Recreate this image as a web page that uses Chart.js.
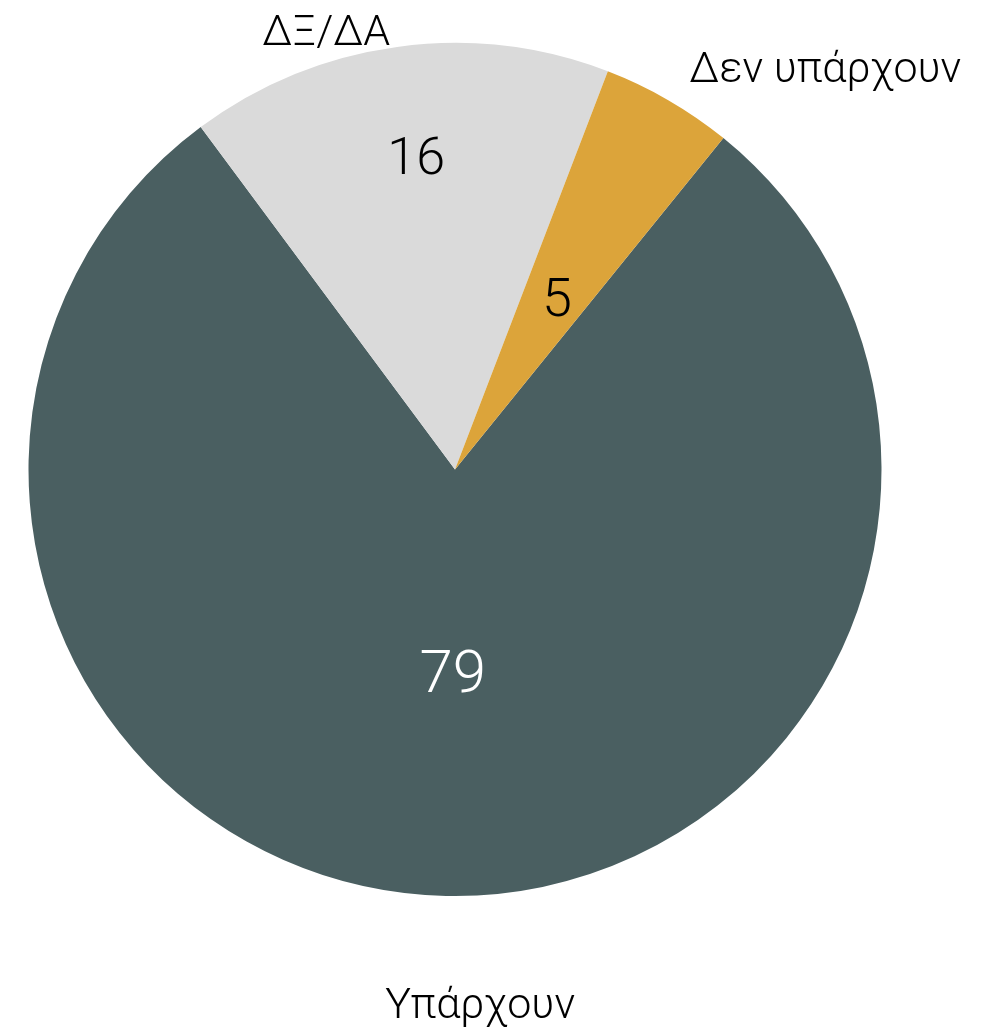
<!DOCTYPE html>
<html lang="el">
<head>
<meta charset="utf-8">
<title>Υπάρχουν / ΔΞ/ΔΑ / Δεν υπάρχουν</title>
<script src="https://cdn.jsdelivr.net/npm/chart.js@4.4.1/dist/chart.umd.min.js"></script>
<style>
    html, body { margin: 0; padding: 0; background: #ffffff; }
    .chart-box { width: 999px; height: 1029px; position: relative; }
</style>
</head>
<body>
<div class="chart-box">
    <canvas id="answers-pie-chart"></canvas>
</div>
<script>
const categories = ['Υπάρχουν', 'ΔΞ/ΔΑ', 'Δεν υπάρχουν'];
const answerValues = [79, 16, 5];
const sliceColors = ['#4a5f61', '#dadada', '#dca43a'];

// where each text goes, relative to the pie centre, in units of the radius
const valueSpots = [[-0.005, 0.522, 60, '#ffffff'], [-0.091, -0.693, 52, '#000000'], [0.239, -0.36, 54, '#000000']];
const nameSpots = [[0.059, 1.286], [-0.302, -0.995], [0.868, -0.909]];

const fontFamily = 'Roboto, "Liberation Sans", sans-serif';

const pieTexts = {
    id: 'pieTexts',
    afterDatasetsDraw(chart) {
        const ctx = chart.ctx;
        const meta = chart.getDatasetMeta(0);
        ctx.save();
        ctx.textAlign = 'center';
        ctx.textBaseline = 'alphabetic';
        meta.data.forEach((arc, i) => {
            const r = arc.outerRadius;
            const v = valueSpots[i];
            ctx.fillStyle = v[3];
            ctx.font = `300 ${v[2]}px ${fontFamily}`;
            ctx.fillText(String(answerValues[i]), arc.x + v[0] * r, arc.y + v[1] * r);

            const n = nameSpots[i];
            ctx.fillStyle = '#000000';
            ctx.font = `300 43px ${fontFamily}`;
            ctx.fillText(categories[i], arc.x + n[0] * r, arc.y + n[1] * r);
        });
        ctx.restore();
    }
};

const answersChart = document.getElementById('answers-pie-chart');
if (answersChart) {
    const pieChartVar = new Chart(answersChart, {
        type: 'pie',
        data: {
            labels: categories,
            datasets: [
                {
                    data: answerValues,
                    backgroundColor: sliceColors,
                    borderWidth: 0,
                    hoverOffset: 0
                }
            ]
        },
        options: {
            animation: false,
            rotation: 39,
            layout: {
                padding: {left: 28, right: 117, top: 43, bottom: 133}
            },
            plugins: {
                legend: {display: false},
                tooltip: {enabled: false}
            },
            responsive: true,
            maintainAspectRatio: false
        },
        plugins: [pieTexts]
    });
}
</script>
</body>
</html>
